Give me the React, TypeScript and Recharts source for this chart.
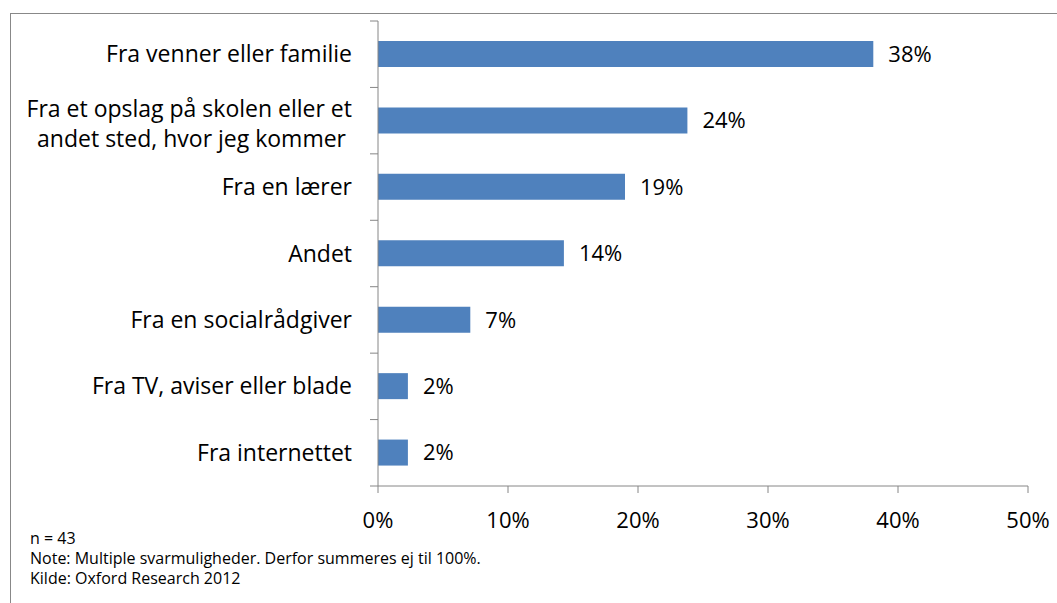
import { BarChart, Bar, XAxis, YAxis, LabelList } from 'recharts'

const categories = [
  'Fra venner eller familie',
  'Fra et opslag på skolen eller et|andet sted, hvor jeg kommer ',
  'Fra en lærer',
  'Andet',
  'Fra en socialrådgiver',
  'Fra TV, aviser eller blade',
  'Fra internettet',
]
const shares = [38.1, 23.8, 19.0, 14.3, 7.1, 2.3, 2.3]
const xTicks = [0, 10, 20, 30, 40, 50]
const footnotes = [
  'n = 43',
  'Note: Multiple svarmuligheder. Derfor summeres ej til 100%.',
  'Kilde: Oxford Research 2012',
]

const data = categories.map((name, i) => ({ name, value: shares[i] }))

const FONT = '"Open Sans", "Noto Sans", sans-serif'
const AXIS = '#868686'
const TOP = 21
const BOTTOM = 486
const BAND = (BOTTOM - TOP) / categories.length

const CategoryTick = (props: any) => {
  const { x, y, payload, index } = props
  const lines = String(payload.value).split('|')
  const lh = 30
  const start = y - ((lines.length - 1) * lh) / 2 + (lines.length > 1 ? 3 : 0)
  return (
    <g>
      <line x1={370} x2={378} y1={y - BAND / 2} y2={y - BAND / 2} stroke={AXIS} />
      {index === categories.length - 1 && (
        <line x1={370} x2={378} y1={y + BAND / 2} y2={y + BAND / 2} stroke={AXIS} />
      )}
      <text textAnchor="end" fill="#000" fontSize={23} fontFamily={FONT} style={{ whiteSpace: 'pre' }}>
        {lines.map((l, i) => (
          <tspan key={i} x={x - 18} y={start + i * lh} dy="0.35em">
            {l}
          </tspan>
        ))}
      </text>
    </g>
  )
}

export default function App() {
  return (
    <div style={{ position: 'absolute', left: 0, top: 0, width: 1057, height: 603, overflow: 'hidden', background: '#fff' }}>
      <div style={{ position: 'absolute', left: 10, top: 13, width: 1100, height: 650, borderLeft: '1px solid #888', borderTop: '1px solid #888' }} />
      <BarChart
        width={1057}
        height={603}
        data={data}
        layout="vertical"
        margin={{ top: TOP, right: 29, left: 8, bottom: 87 }}
        style={{ position: 'absolute', left: 0, top: 0 }}
      >
        <XAxis
          type="number"
          domain={[0, 50]}
          ticks={xTicks}
          tickFormatter={(v) => `${v}%`}
          axisLine={{ stroke: AXIS }}
          tickLine={{ stroke: AXIS }}
          tickSize={7}
          height={30}
          tick={{ fontSize: 22, fill: '#000', fontFamily: FONT, dy: 17 }}
          interval={0}
        />
        <YAxis
          type="category"
          dataKey="name"
          width={370}
          axisLine={{ stroke: AXIS }}
          tickLine={false}
          tick={<CategoryTick />}
          interval={0}
        />
        <Bar dataKey="value" fill="#4F81BD" barSize={26} isAnimationActive={false}>
          <LabelList
            dataKey="value"
            position="right"
            offset={15}
            formatter={(v: any) => `${Math.round(Number(v))}%`}
            style={{ fontSize: 22, fill: '#000', fontFamily: FONT }}
          />
        </Bar>
      </BarChart>
      {footnotes.map((t, i) => (
        <div
          key={i}
          style={{ position: 'absolute', left: 30, top: 528 + i * 20, fontSize: 16, lineHeight: '20px', fontFamily: FONT, color: '#000', whiteSpace: 'nowrap' }}
        >
          {t}
        </div>
      ))}
    </div>
  )
}
